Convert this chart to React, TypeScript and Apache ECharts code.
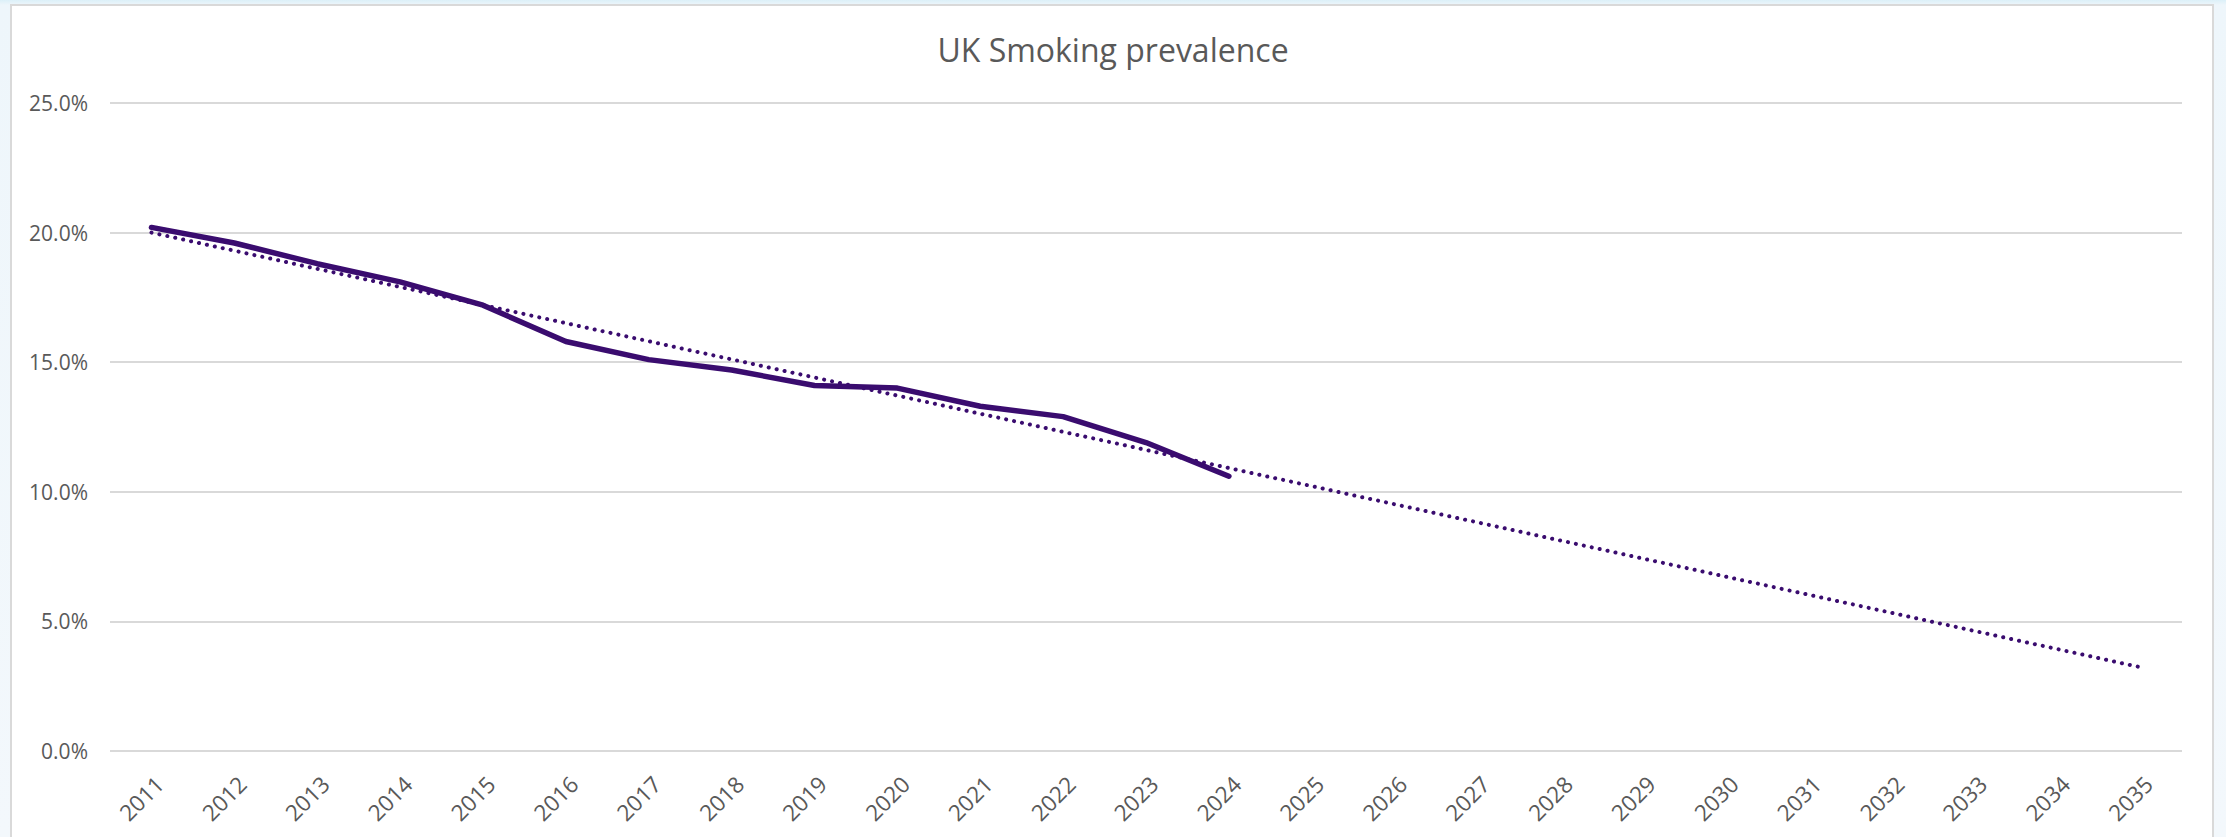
import React, { useEffect, useRef } from "react";
import * as echarts from "echarts";

// Survey years shown on the category axis (actuals 2011–2024, projection to 2035)
const years: string[] = [
  "2011", "2012", "2013", "2014", "2015", "2016", "2017", "2018", "2019",
  "2020", "2021", "2022", "2023", "2024", "2025", "2026", "2027", "2028",
  "2029", "2030", "2031", "2032", "2033", "2034", "2035",
];

// Adult smoking prevalence, % of population
const prevalence: number[] = [
  20.2, 19.6, 18.8, 18.1, 17.2, 15.8, 15.1, 14.7, 14.1, 14.0, 13.3, 12.9, 11.9, 10.6,
];

// Linear trend: value at the first year and at the end of the projection
const trendStart = 20.0;
const trendEnd = 3.23;

// Value axis ticks (%)
const yTicks: number[] = [0, 5, 10, 15, 20, 25];

const FONT = "'Open Sans', 'Noto Sans', sans-serif";
const TEXT = "#595959";
const PURPLE = "#3a0c6f";

export default function App() {
  const ref = useRef<HTMLDivElement>(null);

  useEffect(() => {
    if (!ref.current) return;
    const chart = echarts.init(ref.current, undefined, { renderer: "svg" });

    const trendData: (number | null)[] = years.map((_, i) =>
      i === 0 ? trendStart : i === years.length - 1 ? trendEnd : null
    );

    chart.setOption({
      animation: false,
      backgroundColor: "transparent",
      title: {
        text: "UK Smoking prevalence",
        left: "center",
        top: 26,
        textStyle: {
          fontFamily: FONT,
          fontSize: 32,
          fontWeight: "normal",
          color: TEXT,
          lineHeight: 36,
        },
      },
      grid: { left: 110, right: 44, top: 103, bottom: 86 },
      xAxis: {
        type: "category",
        data: years,
        boundaryGap: true,
        axisLine: { show: false },
        axisTick: { show: false },
        axisLabel: {
          interval: 0,
          rotate: 45,
          margin: 21,
          verticalAlign: "top",
          fontFamily: FONT,
          fontSize: 22.5,
          color: TEXT,
        },
      },
      yAxis: {
        type: "value",
        min: yTicks[0],
        max: yTicks[yTicks.length - 1],
        interval: yTicks[1] - yTicks[0],
        axisLine: { show: false },
        axisTick: { show: false },
        axisLabel: {
          margin: 22,
          fontFamily: FONT,
          fontSize: 21,
          color: TEXT,
          formatter: (v: number) => v.toFixed(1) + "%",
        },
        splitLine: { lineStyle: { color: "#d9d9d9", width: 2 } },
      },
      series: [
        {
          name: "Prevalence",
          type: "line",
          data: prevalence,
          showSymbol: false,
          symbol: "none",
          lineStyle: { color: PURPLE, width: 5.5, cap: "round", join: "round" },
          z: 3,
        },
        {
          name: "Linear trend",
          type: "line",
          data: trendData,
          connectNulls: true,
          showSymbol: false,
          symbol: "none",
          lineStyle: { color: PURPLE, width: 4, type: [0.1, 8], cap: "round" },
          z: 4,
        },
      ],
    });

    return () => chart.dispose();
  }, []);

  return (
    <div
      style={{
        position: "fixed",
        left: 0,
        top: 0,
        width: 2226,
        height: 837,
        background: "linear-gradient(180deg, #dcf0f8 0px, #eef6fb 5px, #f3f8fc 100%)",
        overflow: "hidden",
      }}
    >
      <div
        style={{
          position: "absolute",
          left: 10,
          top: 4,
          width: 2200,
          height: 860,
          background: "#ffffff",
          border: "2px solid #d9d9d9",
        }}
      />
      <div ref={ref} style={{ position: "absolute", left: 0, top: 0, width: 2226, height: 837 }} />
    </div>
  );
}
